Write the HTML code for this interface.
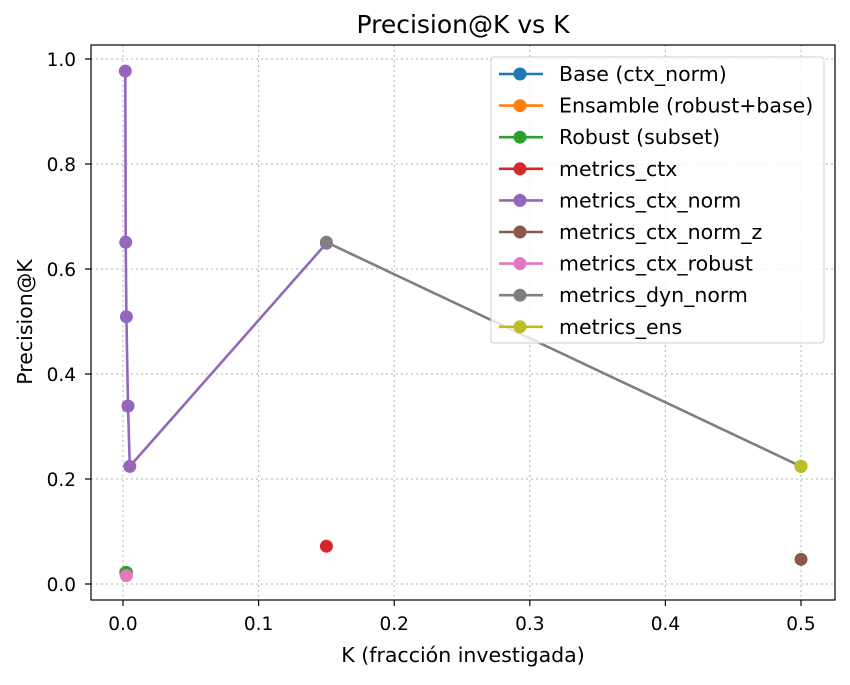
<!DOCTYPE html>
<html><head><meta charset="utf-8"><style>
body{margin:0;background:#fff;}
svg text{font-family:"DejaVu Sans","Liberation Sans",sans-serif;fill:#000;}
</style></head><body>
<svg id="chart" width="850" height="680" xmlns="http://www.w3.org/2000/svg">
<rect width="850" height="680" fill="#fff"/>
<g id="grid"></g>
<g id="series"></g>
<rect x="91" y="45" width="744" height="555" fill="none" stroke="#000" stroke-width="1.2"/>
<g id="ticks"></g>
<text x="463" y="33" font-size="25" text-anchor="middle">Precision@K vs K</text>
<text x="463" y="662" font-size="20.5" text-anchor="middle">K (fracción investigada)</text>
<text transform="translate(32,322) rotate(-90)" font-size="20.5" text-anchor="middle">Precision@K</text>
<g id="legend"></g>
</svg>
<script>
const xTicks=[0.0,0.1,0.2,0.3,0.4,0.5];
const yTicks=[0.0,0.2,0.4,0.6,0.8,1.0];
const seriesNames=["Base (ctx_norm)","Ensamble (robust+base)","Robust (subset)","metrics_ctx","metrics_ctx_norm","metrics_ctx_norm_z","metrics_ctx_robust","metrics_dyn_norm","metrics_ens"];
const seriesColors=["#1f77b4","#ff7f0e","#2ca02c","#d62728","#9467bd","#8c564b","#e377c2","#7f7f7f","#bcbd22"];
const baseX=[0.002]; const baseY=[0.022];
const ensX=[0.002]; const ensY=[0.022];
const robX=[0.0025]; const robY=[0.022];
const ctxX=[0.15]; const ctxY=[0.072];
const ctxNormX=[0.0017,0.002,0.0025,0.0037,0.005,0.15]; const ctxNormY=[0.977,0.651,0.509,0.339,0.224,0.649];
const ctxNormZX=[0.5]; const ctxNormZY=[0.047];
const ctxRobX=[0.0025]; const ctxRobY=[0.016];
const dynX=[0.15,0.5]; const dynY=[0.651,0.224];
const ensMX=[0.5]; const ensMY=[0.224];
const allX=[baseX,ensX,robX,ctxX,ctxNormX,ctxNormZX,ctxRobX,dynX,ensMX];
const allY=[baseY,ensY,robY,ctxY,ctxNormY,ctxNormZY,ctxRobY,dynY,ensMY];
const NS="http://www.w3.org/2000/svg";
const sx=v=>123+v*1356, sy=v=>584-v*525;
function mk(tag,attrs,parent){const e=document.createElementNS(NS,tag);for(const k in attrs)e.setAttribute(k,attrs[k]);parent.appendChild(e);return e;}
const grid=document.getElementById('grid'),ticks=document.getElementById('ticks'),ser=document.getElementById('series'),leg=document.getElementById('legend');
xTicks.forEach(t=>{const x=sx(t);
 const g=mk('line',{x1:x,x2:x,y1:45,y2:600,stroke:'#b0b0b0','stroke-width':1,'stroke-dasharray':'2,3'},grid);
 
 
 const tk=mk('line',{x1:x,x2:x,y1:600,y2:606,stroke:'#000','stroke-width':1.2},ticks);
 
 
 const tx=mk('text',{x:x,y:630,'font-size':18.5,'text-anchor':'middle'},ticks);tx.textContent=t.toFixed(1);
 
 });
yTicks.forEach(t=>{const y=sy(t);
 const g=mk('line',{x1:91,x2:835,y1:y,y2:y,stroke:'#b0b0b0','stroke-width':1,'stroke-dasharray':'2,3'},grid);
 
 
 const tk=mk('line',{x1:85,x2:91,y1:y,y2:y,stroke:'#000','stroke-width':1.2},ticks);
 
 
 const tx=mk('text',{x:76,y:y+7,'font-size':18.5,'text-anchor':'end'},ticks);tx.textContent=t.toFixed(1);
 
 });
allX.forEach((xs,i)=>{const ys=allY[i],c=seriesColors[i];
 const g=mk('g',{},ser);
 
 
 if(xs.length>1){const pl=mk('polyline',{points:xs.map((x,j)=>sx(x)+','+sy(ys[j])).join(' '),fill:'none',stroke:c,'stroke-width':2.6},g);
  
  }
 xs.forEach((x,j)=>{const p=mk('circle',{cx:sx(x),cy:sy(ys[j]),r:6.5,fill:c},g);
  
  });});
const lb=mk('rect',{x:491,y:57,width:333,height:286,rx:3,fill:'#fff','fill-opacity':0.8,stroke:'#d0d0d0'},leg);


seriesNames.forEach((n,i)=>{const y=74+i*31.6,c=seriesColors[i];
 const g=mk('g',{},leg);
 
 
 mk('line',{x1:499,x2:543,y1:y,y2:y,stroke:c,'stroke-width':2.6},g);
 mk('circle',{cx:520,cy:y,r:6.5,fill:c},g);
 const t=mk('text',{x:559,y:y+7,'font-size':20.5},g);t.textContent=n;});
</script>
</body></html>
